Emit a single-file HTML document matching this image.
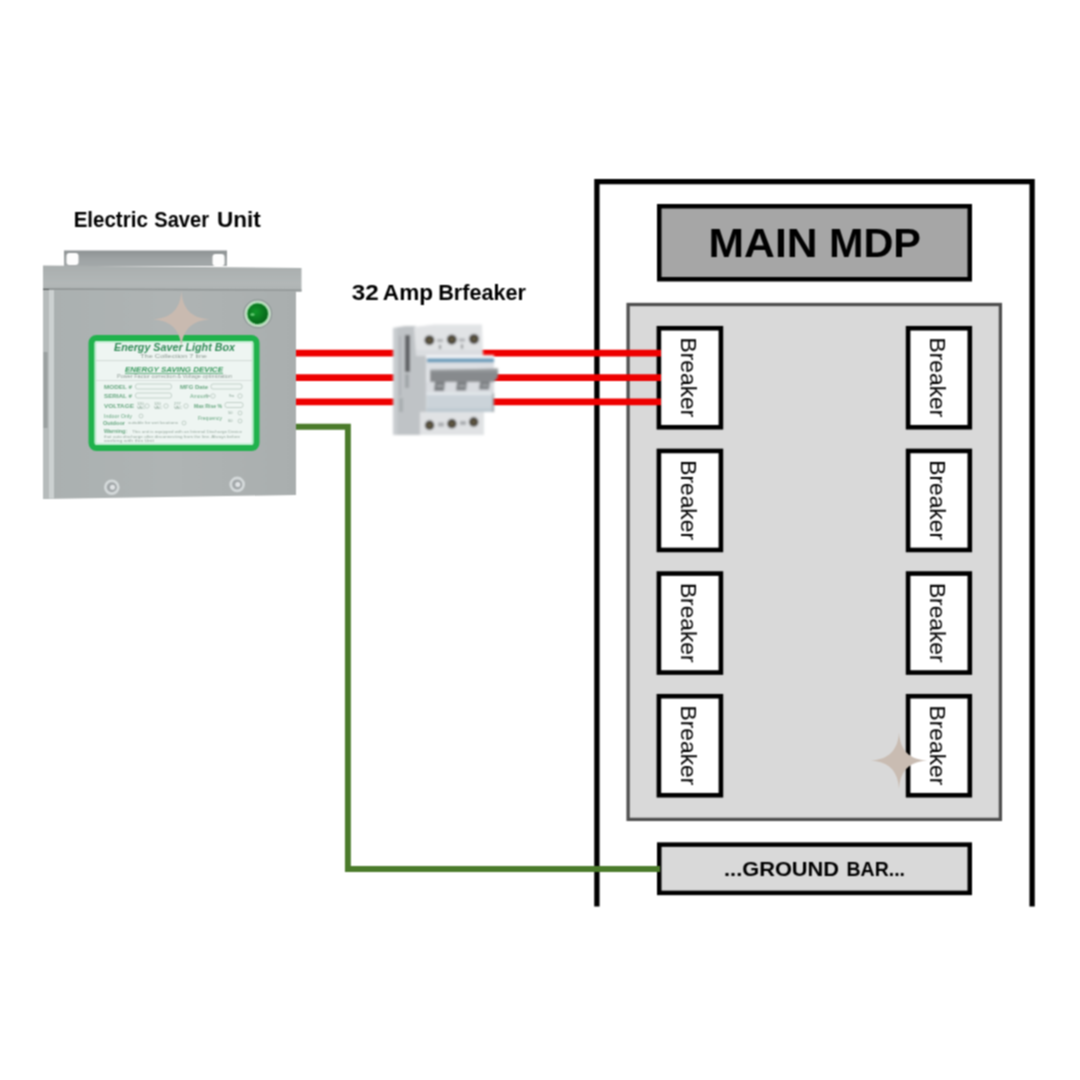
<!DOCTYPE html>
<html>
<head>
<meta charset="utf-8">
<style>
html,body{margin:0;padding:0;background:#fff;}
body{width:1080px;height:1080px;overflow:hidden;position:relative;}
svg{position:absolute;left:0;top:0;}
text{font-family:"Liberation Sans",sans-serif;}
</style>
</head>
<body>
<svg width="1080" height="1080" viewBox="0 0 1080 1080">
  <defs>
    <linearGradient id="lidg" x1="0" y1="0" x2="0" y2="1">
      <stop offset="0" stop-color="#a9aeae"/>
      <stop offset="0.7" stop-color="#b2b7b7"/>
      <stop offset="1" stop-color="#adb2b2"/>
    </linearGradient>
    <linearGradient id="bodyg" x1="0" y1="0" x2="1" y2="0">
      <stop offset="0" stop-color="#aab0b0"/>
      <stop offset="0.5" stop-color="#afb4b4"/>
      <stop offset="1" stop-color="#a9aeae"/>
    </linearGradient>
    <radialGradient id="ledg" cx="0.4" cy="0.4" r="0.6">
      <stop offset="0" stop-color="#12982a"/>
      <stop offset="1" stop-color="#06661a"/>
    </radialGradient>
    <linearGradient id="flg" x1="0" y1="0" x2="0" y2="1">
      <stop offset="0" stop-color="#8d9293"/>
      <stop offset="0.55" stop-color="#9ea3a4"/>
      <stop offset="1" stop-color="#a3a8a9"/>
    </linearGradient>
    <filter id="soft" x="0" y="0" width="1080" height="1080" filterUnits="userSpaceOnUse" color-interpolation-filters="sRGB"><feConvolveMatrix order="3" kernelMatrix="1 2 1 2 4 2 1 2 1" divisor="16" edgeMode="duplicate" preserveAlpha="false"/></filter>
    <filter id="bl5" x="-10%" y="-10%" width="120%" height="120%"><feGaussianBlur stdDeviation="1"/></filter>
    <filter id="bl7" x="-10%" y="-10%" width="120%" height="120%"><feGaussianBlur stdDeviation="1"/></filter>
  </defs>
<g filter="url(#soft)">
<rect x="0" y="0" width="1080" height="1080" fill="#fff"/>

  <!-- ===== Electric saver unit ===== -->
  <g id="unit">
    <!-- flange -->
    <rect x="64" y="250.5" width="163" height="15.5" fill="url(#flg)"/>
    <rect x="66.5" y="253" width="12" height="12" rx="3" fill="#fdfdfd"/>
    <rect x="212.5" y="254" width="12" height="12" rx="3" fill="#fdfdfd"/>
    <!-- lid -->
    <polygon points="43,265.5 301.5,268 301.5,291.5 43,290" fill="url(#lidg)"/>
    <polygon points="43,288 301.5,289.5 301.5,291.5 43,290.5" fill="#929797"/>
    <polygon points="43,289 49,289 49,295 43,295" fill="#3a3d3e" opacity="0.6"/>
    <!-- body -->
    <polygon points="43,290 296,291 296,495 43,499" fill="url(#bodyg)"/>
    <polygon points="43,290 49,290 49,498.5 43,498.9" fill="#b6bbbb"/>
    <rect x="49" y="290" width="5" height="208.5" fill="#ccd1d1"/>
    <rect x="43.5" y="352" width="4" height="76" fill="#8f9494" opacity="0.7"/>
    <!-- LED -->
    <circle cx="257.7" cy="313.8" r="14.5" fill="#8f9797"/>
    <circle cx="257.7" cy="313.8" r="13.3" fill="#c2d9c4"/>
    <circle cx="257.7" cy="313.8" r="11.3" fill="#8fd59a"/>
    <circle cx="257.7" cy="313.8" r="10.2" fill="url(#ledg)"/>
    <ellipse cx="252.5" cy="314.5" rx="2.2" ry="1.5" fill="#5cc46c"/>
    <!-- label -->
    <rect x="91.5" y="338" width="165" height="110" rx="5" fill="#eef5f2" stroke="#20b24c" stroke-width="6"/>
    <rect x="95.5" y="342" width="157" height="102" rx="2" fill="none" stroke="#b9eccb" stroke-width="1.5"/>
    <g>
      <text x="114" y="350.5" font-size="10.2" font-weight="bold" font-style="italic" fill="#2f8a55" textLength="121" lengthAdjust="spacingAndGlyphs">Energy Saver Light Box</text>
      <text x="140" y="357.5" font-size="5" fill="#8d9b93" textLength="67" lengthAdjust="spacingAndGlyphs">The Collection 7 line</text>
      <rect x="96" y="360.3" width="156" height="0.8" fill="#c9d2cd"/>
      <text x="125" y="372" font-size="7.2" font-weight="bold" font-style="italic" fill="#3a9a5e" textLength="98" lengthAdjust="spacingAndGlyphs">ENERGY SAVING DEVICE</text>
      <rect x="125" y="373" width="98" height="0.8" fill="#3a9a5e"/>
      <text x="117" y="378" font-size="4.5" fill="#909d96" textLength="115" lengthAdjust="spacingAndGlyphs">Power Factor correction &amp; Voltage optimization</text>
      <rect x="96" y="380" width="156" height="0.8" fill="#d3dbd6"/>
      <g font-size="5.2" font-weight="bold" fill="#6aa882">
        <text x="104" y="388.5" textLength="28" lengthAdjust="spacingAndGlyphs">MODEL #</text>
        <text x="180" y="388.5" textLength="28" lengthAdjust="spacingAndGlyphs">MFG Date</text>
        <text x="104" y="397.5" textLength="28" lengthAdjust="spacingAndGlyphs">SERIAL #</text>
        <text x="190" y="397.5" font-weight="normal" textLength="18" lengthAdjust="spacingAndGlyphs">Amount</text>
        <text x="104" y="408" textLength="30" lengthAdjust="spacingAndGlyphs">VOLTAGE</text>
        <text x="194" y="408" textLength="28" lengthAdjust="spacingAndGlyphs">Max Rise %</text>
        <text x="104" y="418" font-weight="normal" textLength="28" lengthAdjust="spacingAndGlyphs">Indoor Only</text>
        <text x="198" y="419.5" font-weight="normal" textLength="24" lengthAdjust="spacingAndGlyphs">Frequency</text>
        <text x="103" y="424.5" textLength="22" lengthAdjust="spacingAndGlyphs">Outdoor</text>
        <text x="104" y="433" textLength="23" lengthAdjust="spacingAndGlyphs">Warning:</text>
      </g>
      <g font-size="4" fill="#98aaa0">
        <text x="128" y="424" textLength="50" lengthAdjust="spacingAndGlyphs">suitable for wet locations</text>
        <text x="132" y="432.5" textLength="110" lengthAdjust="spacingAndGlyphs">This unit is equipped with an Internal Discharge Device</text>
        <text x="104" y="437.5" textLength="136" lengthAdjust="spacingAndGlyphs">that auto discharge after disconnecting from the line. Always before</text>
        <text x="104" y="442" textLength="50" lengthAdjust="spacingAndGlyphs">working with this Unit</text>
      </g>
      <g fill="none" stroke="#b8c8bf" stroke-width="0.8">
        <rect x="135.5" y="384" width="36" height="5" rx="2"/>
        <rect x="211" y="384" width="31" height="5" rx="2"/>
        <rect x="135.5" y="393" width="36" height="5" rx="2"/>
        <rect x="225" y="402.5" width="18" height="5" rx="2"/>
        <circle cx="213" cy="396" r="2.2"/><circle cx="240" cy="396" r="2.2"/>
        <circle cx="147" cy="406" r="2.2"/><circle cx="166" cy="406" r="2.2"/><circle cx="186" cy="406" r="2.2"/>
        <circle cx="141" cy="416" r="2"/><circle cx="184" cy="423" r="2"/>
        <circle cx="240" cy="413" r="2"/><circle cx="240" cy="421" r="2"/>
      </g>
      <g font-size="4" fill="#8aa596">
        <text x="137" y="404.5">120</text><text x="137" y="409">VAC</text>
        <text x="154" y="404.5">120</text><text x="154" y="409">VAC</text>
        <text x="174" y="404.5">277</text><text x="174" y="409">VAC</text>
        <text x="205" y="397">7w</text><text x="229" y="397">9w</text>
        <text x="228" y="414">50</text><text x="228" y="422">60</text>
      </g>
    </g>
    <!-- screws -->
    <circle cx="111.8" cy="487.2" r="7.8" fill="#d3d8d9"/>
    <circle cx="111.8" cy="487.2" r="5" fill="#a3a8aa"/>
    <circle cx="112.5" cy="487.2" r="2.5" fill="#dfe2e4"/>
    <circle cx="237.2" cy="484.4" r="7.8" fill="#d3d8d9"/>
    <circle cx="237.2" cy="484.4" r="5" fill="#a3a8aa"/>
    <circle cx="237.8" cy="484.4" r="2.5" fill="#dfe2e4"/>
  </g>

  <!-- ===== MDP ===== -->
  <path d="M596.9,906.5 V181.7 H1032.1 V906.5" fill="none" stroke="#000" stroke-width="5.3"/>
  <rect x="659.25" y="206.25" width="310.5" height="73" fill="#a6a6a6" stroke="#000" stroke-width="4.5"/>
  <rect x="628.1" y="304.5" width="372.3" height="514.9" fill="#d9d9d9" stroke="#4f4f4f" stroke-width="3.3"/>
  <g fill="#fff" stroke="#000" stroke-width="4.6">
    <rect x="658.9" y="328.25" width="62" height="99"/>
    <rect x="658.9" y="450.95" width="62" height="99"/>
    <rect x="658.9" y="573.55" width="62" height="99"/>
    <rect x="658.9" y="696.25" width="62" height="99"/>
    <rect x="908.1" y="328.25" width="61.7" height="99"/>
    <rect x="908.1" y="450.95" width="61.7" height="99"/>
    <rect x="908.1" y="573.55" width="61.7" height="99"/>
    <rect x="908.1" y="696.25" width="61.7" height="99"/>
  </g>
  <rect x="659.25" y="844.6" width="310.5" height="48.3" fill="#d9d9d9" stroke="#000" stroke-width="4.5"/>

  <!-- texts -->
  <text y="226.6" font-size="21.3" font-weight="bold" fill="#000"><tspan x="73.64" textLength="74.18" lengthAdjust="spacingAndGlyphs">Electric</tspan><tspan x="154.26" textLength="54.77" lengthAdjust="spacingAndGlyphs">Saver</tspan><tspan x="217.14" textLength="43.68" lengthAdjust="spacingAndGlyphs">Unit</tspan></text>
  <text y="299.6" font-size="21.3" font-weight="bold" fill="#000"><tspan x="351.76" textLength="26.94" lengthAdjust="spacingAndGlyphs">32</tspan><tspan x="382.84" textLength="50.17" lengthAdjust="spacingAndGlyphs">Amp</tspan><tspan x="438.29" textLength="87.56" lengthAdjust="spacingAndGlyphs">Brfeaker</tspan></text>
  <text y="257" font-size="41.5" font-weight="bold" fill="#000"><tspan x="708.62" textLength="108.91" lengthAdjust="spacingAndGlyphs">MAIN</tspan><tspan x="828.91" textLength="92.02" lengthAdjust="spacingAndGlyphs">MDP</tspan></text>
  <text y="876" font-size="20.7" font-weight="bold" fill="#000"><tspan x="724.05" textLength="115" lengthAdjust="spacingAndGlyphs">...GROUND</tspan><tspan x="846.56" textLength="58.44" lengthAdjust="spacingAndGlyphs">BAR...</tspan></text>

  <g font-size="21.6" fill="#000">
    <text transform="translate(680.6,337.6) rotate(90)" textLength="79.7" lengthAdjust="spacingAndGlyphs">Breaker</text>
    <text transform="translate(680.6,460.3) rotate(90)" textLength="79.7" lengthAdjust="spacingAndGlyphs">Breaker</text>
    <text transform="translate(680.6,582.9) rotate(90)" textLength="79.7" lengthAdjust="spacingAndGlyphs">Breaker</text>
    <text transform="translate(680.6,705.6) rotate(90)" textLength="79.7" lengthAdjust="spacingAndGlyphs">Breaker</text>
    <text transform="translate(929.6,337.6) rotate(90)" textLength="79.7" lengthAdjust="spacingAndGlyphs">Breaker</text>
    <text transform="translate(929.6,460.3) rotate(90)" textLength="79.7" lengthAdjust="spacingAndGlyphs">Breaker</text>
    <text transform="translate(929.6,582.9) rotate(90)" textLength="79.7" lengthAdjust="spacingAndGlyphs">Breaker</text>
    <text transform="translate(929.6,705.6) rotate(90)" textLength="79.7" lengthAdjust="spacingAndGlyphs">Breaker</text>
  </g>

  <!-- wires -->
  <g stroke="#ee0000" stroke-width="6.8">
    <line x1="296" y1="353.1" x2="661" y2="353.1"/>
    <line x1="296" y1="377.6" x2="661" y2="377.6"/>
    <line x1="296" y1="401.9" x2="661" y2="401.9"/>
  </g>
  <path d="M296,426.8 H347.9 V869 H660" fill="none" stroke="#4b7b2b" stroke-width="5.9"/>

  <!-- ===== MCB ===== -->
  <g id="mcb" filter="url(#bl7)">
    <!-- left side face -->
    <polygon points="393,328 405,326 416,326 416,354 427,356 427,414 421,435 395,435 393,433" fill="#bfc3c6"/>
    <rect x="393" y="328" width="4" height="107" fill="#c9cdd0"/>
    <rect x="399" y="336" width="2" height="60" fill="#a9adb0" opacity="0.8"/>
    <rect x="405" y="335" width="5" height="37" fill="#4e5154" opacity="0.85"/>
    <rect x="405" y="374" width="4" height="14" fill="#8d9194" opacity="0.6"/>
    <rect x="399" y="398" width="4" height="14" fill="#9a9ea2" opacity="0.6"/>
    <!-- top terminal block -->
    <polygon points="414,327 434,324.5 482,324.5 483,356 416,356" fill="#e1e3e5"/>
    <rect x="416" y="350" width="67" height="6" fill="#dadde0"/>
    <rect x="437" y="339" width="6" height="3" fill="#8a8d90" opacity="0.6"/>
    <rect x="459" y="338.5" width="6" height="3" fill="#8a8d90" opacity="0.6"/>
    <rect x="439" y="345" width="2" height="4" fill="#55585b" opacity="0.7"/>
    <rect x="461" y="344.5" width="2" height="4" fill="#55585b" opacity="0.7"/>
    <!-- middle body -->
    <rect x="426" y="355" width="68" height="57" fill="#e0e3e6"/>
    <rect x="426" y="355" width="68" height="3.5" fill="#eff2f5"/>
    <rect x="427" y="358.5" width="67" height="4" fill="#5f97b8"/>
    <rect x="427" y="362.5" width="67" height="7" fill="#dcdfe3"/>
    <!-- handle -->
    <polygon points="430,370 498,368.5 498,377 494,382 430,382" fill="#878a8d"/>
    <rect x="430" y="369.5" width="68" height="2" fill="#9a9da0"/>
    <!-- under-handle -->
    <rect x="426" y="382" width="68" height="10.5" fill="#d9dce0"/>
    <polygon points="435,382 445,382 444,391 434,391" fill="#7c7f82"/>
    <polygon points="457,382 467,382 466,390.5 456,390.5" fill="#7c7f82"/>
    <polygon points="480,382 490,382 489,389.5 479,389.5" fill="#7c7f82"/>
    <rect x="437" y="385" width="6" height="2" fill="#a4a7aa"/>
    <rect x="459" y="385" width="6" height="2" fill="#a4a7aa"/>
    <rect x="482" y="384.5" width="6" height="2" fill="#a4a7aa"/>
    <!-- lower light blue -->
    <rect x="426.5" y="392.5" width="67.5" height="19.5" fill="#cbd3d9"/>
    <rect x="426.5" y="392.5" width="67.5" height="2.5" fill="#e3e8eb"/>
    <rect x="426.5" y="408.5" width="67.5" height="3.5" fill="#bdc9d0"/>
    <rect x="492.5" y="393" width="1.5" height="19" fill="#8f969b"/>
    <!-- bottom terminal block -->
    <rect x="420" y="412" width="64" height="23" fill="#e0e2e4"/>
    <rect x="438" y="422.5" width="6" height="4" fill="#a7aaad"/>
    <rect x="460" y="421" width="6" height="4" fill="#a7aaad"/>
    <!-- terminals -->
    <g fill="#221f19">
      <circle cx="429.4" cy="340.2" r="4.8"/><circle cx="451.8" cy="339.6" r="4.8"/><circle cx="474" cy="339" r="4.8"/>
      <circle cx="429.6" cy="425.2" r="4.6"/><circle cx="451.9" cy="423.7" r="4.6"/><circle cx="473.7" cy="421.9" r="4.6"/>
    </g>
    <g fill="#5f5640">
      <circle cx="429.4" cy="340.2" r="3"/><circle cx="451.8" cy="339.6" r="3"/><circle cx="474" cy="339" r="3"/>
      <circle cx="429.6" cy="425.2" r="3"/><circle cx="451.9" cy="423.7" r="3"/><circle cx="473.7" cy="421.9" r="3"/>
    </g>
  </g>

  <!-- sparkles -->
  <path d="M181.40,291.10 C182.53,309.21 191.59,318.27 209.70,319.40 C191.59,320.53 182.53,329.59 181.40,347.70 C180.27,329.59 171.21,320.53 153.10,319.40 C171.21,318.27 180.27,309.21 181.40,291.10 Z" fill="#c9bab0"/>
  <path d="M899.00,732.20 C900.13,750.31 909.19,759.37 927.30,760.50 C909.19,761.63 900.13,770.69 899.00,788.80 C897.87,770.69 888.81,761.63 870.70,760.50 C888.81,759.37 897.87,750.31 899.00,732.20 Z" fill="#c9bcb2"/>
</g>
</svg>
</body>
</html>
